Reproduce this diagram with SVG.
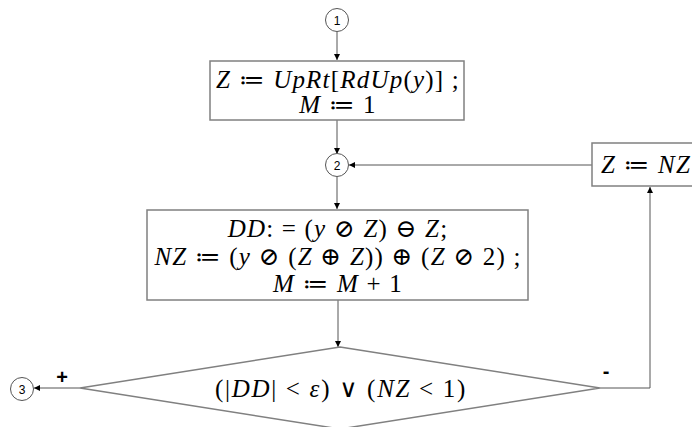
<svg xmlns="http://www.w3.org/2000/svg" width="692" height="427" viewBox="0 0 692 427">
<style>
.box{fill:#fff;stroke:#808080;stroke-width:1.5}
.con{fill:none;stroke:#555;stroke-width:1}
.circ{fill:#fff;stroke:#555;stroke-width:1}
.m{font-family:"Liberation Serif","DejaVu Serif",serif;font-size:25px;letter-spacing:1.2px;fill:#000;text-anchor:middle}
.i{font-style:italic}
.c{font-family:"Liberation Sans","DejaVu Sans",sans-serif;font-size:12px;fill:#000;text-anchor:middle}
.s{font-family:"Liberation Sans","DejaVu Sans",sans-serif;font-size:20px;font-weight:bold;fill:#000;text-anchor:middle}
</style>
<defs>
<marker id="ah" markerWidth="6" markerHeight="6" refX="6" refY="3" orient="auto" markerUnits="userSpaceOnUse">
<path d="M0,0 L6,3 L0,6 Z" fill="#000"/>
</marker>
</defs>
<g id="connectors">
<line class="con" x1="337" y1="32" x2="337" y2="60" marker-end="url(#ah)"/>
<line class="con" x1="337" y1="120" x2="337" y2="154" marker-end="url(#ah)"/>
<line class="con" x1="337" y1="177" x2="337" y2="209" marker-end="url(#ah)"/>
<line class="con" x1="338" y1="300" x2="338" y2="347" marker-end="url(#ah)"/>
<line class="con" x1="592" y1="165" x2="349" y2="165" marker-end="url(#ah)"/>
<polyline class="con" points="600,388 650,388 650,187" marker-end="url(#ah)"/>
<line class="con" x1="80" y1="388" x2="34" y2="388" marker-end="url(#ah)"/>
</g>
<g id="c1">
<circle class="circ" cx="337" cy="20" r="11.5"/>
<text class="c" x="337" y="24.5">1</text>
</g>
<g id="box1">
<rect class="box" x="210" y="61" width="254" height="59"/>
<text class="m" x="338" y="88"><tspan class="i">Z</tspan> ≔ <tspan class="i">UpRt</tspan>[<tspan class="i">RdUp</tspan>(<tspan class="i">y</tspan>)] ;</text>
<text class="m" x="338" y="113"><tspan class="i">M</tspan> ≔ 1</text>
</g>
<g id="c2">
<circle class="circ" cx="337" cy="165" r="11.5"/>
<text class="c" x="337" y="169.5">2</text>
</g>
<g id="box3">
<rect class="box" x="592" y="143" width="110" height="43"/>
<text class="m" x="646" y="173"><tspan class="i">Z</tspan> ≔ <tspan class="i">NZ</tspan></text>
</g>
<g id="box2">
<rect class="box" x="147" y="210" width="381" height="90"/>
<text class="m" x="338" y="237"><tspan class="i">DD</tspan>: = (<tspan class="i">y</tspan> ⊘ <tspan class="i">Z</tspan>) ⊖ <tspan class="i">Z</tspan>;</text>
<text class="m" x="338" y="265"><tspan class="i">NZ</tspan> ≔ (<tspan class="i">y</tspan> ⊘ (<tspan class="i">Z</tspan> ⊕ <tspan class="i">Z</tspan>)) ⊕ (<tspan class="i">Z</tspan> ⊘ 2) ;</text>
<text class="m" x="338" y="292"><tspan class="i">M</tspan> ≔ <tspan class="i">M</tspan> + 1</text>
</g>
<g id="diamond">
<polygon class="box" points="340,347 600,388 340,429 80,388"/>
<text class="m" x="341" y="397" style="letter-spacing:1.7px">(|<tspan class="i">DD</tspan>| &lt; <tspan class="i">ε</tspan>) ∨ (<tspan class="i">NZ</tspan> &lt; 1)</text>
</g>
<g id="c3">
<circle class="circ" cx="22" cy="389" r="11.5"/>
<text class="c" x="22" y="393.5">3</text>
</g>
<text class="s" x="62" y="384">+</text>
<text class="s" x="606" y="378">-</text>
</svg>
